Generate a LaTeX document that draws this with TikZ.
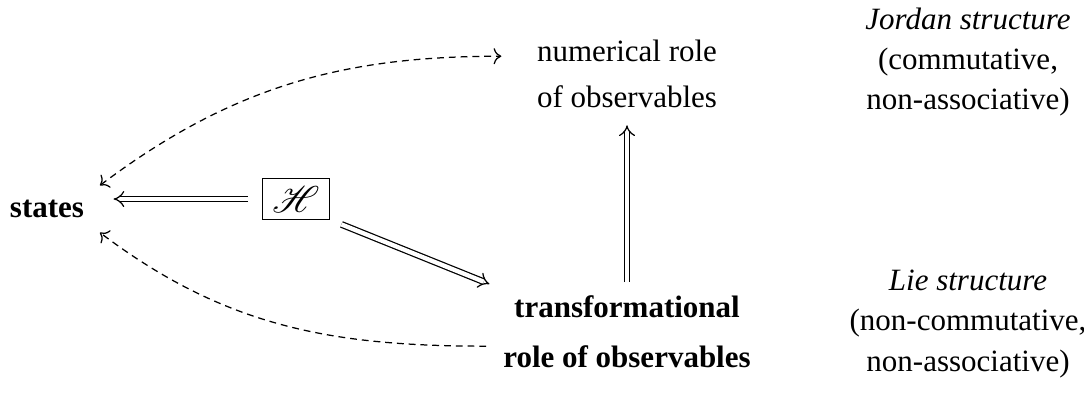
\documentclass[tikz,border=0pt]{standalone}
\usepackage{fontspec}
\setmainfont{Liberation Serif}
\usepackage{mathrsfs}
\usepackage{tikz}
\usetikzlibrary{arrows.meta}
\tikzset{every node/.append style={font=\normalsize}}

\begin{document}
\begin{tikzpicture}[x=0.3226pt, y=-0.3226pt, >={To},
    imp/.style={double, double distance=1.4pt, -{Implies}},
    dlink/.style={dash pattern=on 2.2pt off 1.6pt}]
    \useasboundingbox (0,0) rectangle (1084,392);
    \node[font=\bfseries] (states) at (47,209) {states};
    \node[draw, minimum width=21.5pt, minimum height=13pt, inner sep=0pt, font=\large] (ham) at (296,199) {$\mathscr{H}$};
    \node[align=center] (num) at (627,74) {numerical role\\[3pt] of observables};
    \node[align=center, font=\bfseries] (trans) at (627,332) {transformational\\[4pt] role of observables};
    \node[align=center] (jordan) at (968,62) {\textit{Jordan structure}\\[1pt] (commutative,\\[1pt] non-associative)};
    \node[align=center] (lie) at (968,324) {\textit{Lie structure}\\[1pt] (non-commutative,\\[1pt] non-associative)};
    \draw[imp, shorten <=4.5pt, shorten >=6pt] (ham.west) -- (ham.west -| states.east);
    \draw[imp, shorten <=4pt, shorten >=1pt] (ham.south east) -- (trans.north west);
    \draw[imp, shorten <=1pt, shorten >=2pt] (trans.north) -- (num.south);
    \draw[dlink, <->, shorten <=2pt, shorten >=8pt] (states.north east) to[out=37, in=180] (num.170);
    \draw[dlink, ->, shorten <=2pt, shorten >=2pt] (trans.186) to[out=180, in=-37] (states.south east);
\end{tikzpicture}
\end{document}
